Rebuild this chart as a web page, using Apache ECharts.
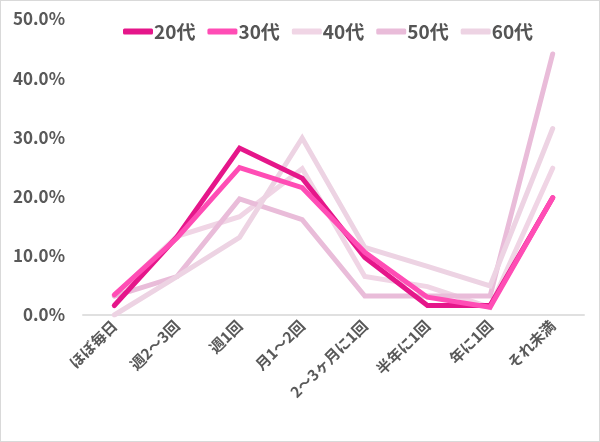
<!DOCTYPE html>
<html><head><meta charset="utf-8">
<script src="https://cdn.jsdelivr.net/npm/echarts@6/dist/echarts.min.js"></script>
<style>html,body{margin:0;padding:0;background:#fff;}#c{width:598px;height:440px;border:1px solid #d9d9d9;}</style>
</head><body><div id="c"></div>
<script>
const categories = ['ほぼ毎日','週2～3回','週1回','月1～2回','2～3ヶ月に1回','半年に1回','年に1回','それ未満'];
const seriesNames = ['20代','30代','40代','50代','60代'];
const s20 = [1.6, 13.2, 28.2, 23.1, 9.7, 1.6, 1.6, 19.8];
const s30 = [3.4, 13.0, 24.9, 21.5, 10.6, 3.0, 1.3, 19.8];
const s40 = [3.2, 13.3, 16.6, 24.7, 6.5, 4.8, 1.3, 24.8];
const s50 = [3.2, 6.5, 19.6, 16.1, 3.2, 3.2, 3.2, 44.1];
const s60 = [0.0, 6.5, 13.1, 29.9, 11.4, 8.2, 4.9, 31.5];
const yTicks = [0, 10, 20, 30, 40, 50];
const colors = ['#E5168A','#FF4DB5','#F0D5E5','#E9BCD9','#EDD3E3'];
const values = [s20, s30, s40, s50, s60];

const chart = echarts.init(document.getElementById('c'));
const font = '"Noto Sans CJK JP", "Noto Sans", sans-serif';
chart.setOption({
  animation: false,
  textStyle: {fontFamily: font},
  legend: {
    top: 16, left: 117, itemWidth: 30, itemHeight: 6, itemGap: 12,
    icon: 'roundRect',
    textStyle: {fontSize: 19, color: '#555', fontWeight: 'bold', fontFamily: font, padding: [0,0,0,-4]},
    data: seriesNames
  },
  grid: {left: 82, right: 15, top: 18, bottom: 126},
  xAxis: {
    type: 'category', data: categories, boundaryGap: true,
    axisLine: {lineStyle: {color: '#E0E0E0', width: 2}},
    axisTick: {show: false},
    axisLabel: {rotate: 45, fontSize: 15, fontWeight: 'bold', color: '#595959', margin: 8, interval: 0}
  },
  yAxis: {
    type: 'value', min: yTicks[0], max: yTicks[yTicks.length-1], interval: 10,
    axisLine: {show: false}, axisTick: {show: false}, splitLine: {show: false},
    axisLabel: {fontSize: 17, fontWeight: 'bold', color: '#595959', margin: 18, formatter: v => v.toFixed(1) + '%'}
  },
  series: seriesNames.map((n, i) => ({
    name: n, type: 'line', data: values[i], showSymbol: false, symbol: 'none',
    color: colors[i],
    lineStyle: {width: 5, color: colors[i], cap: 'round', join: 'miter'},
    z: [5,6,2,3,4][i]
  }))
});
</script></body></html>
